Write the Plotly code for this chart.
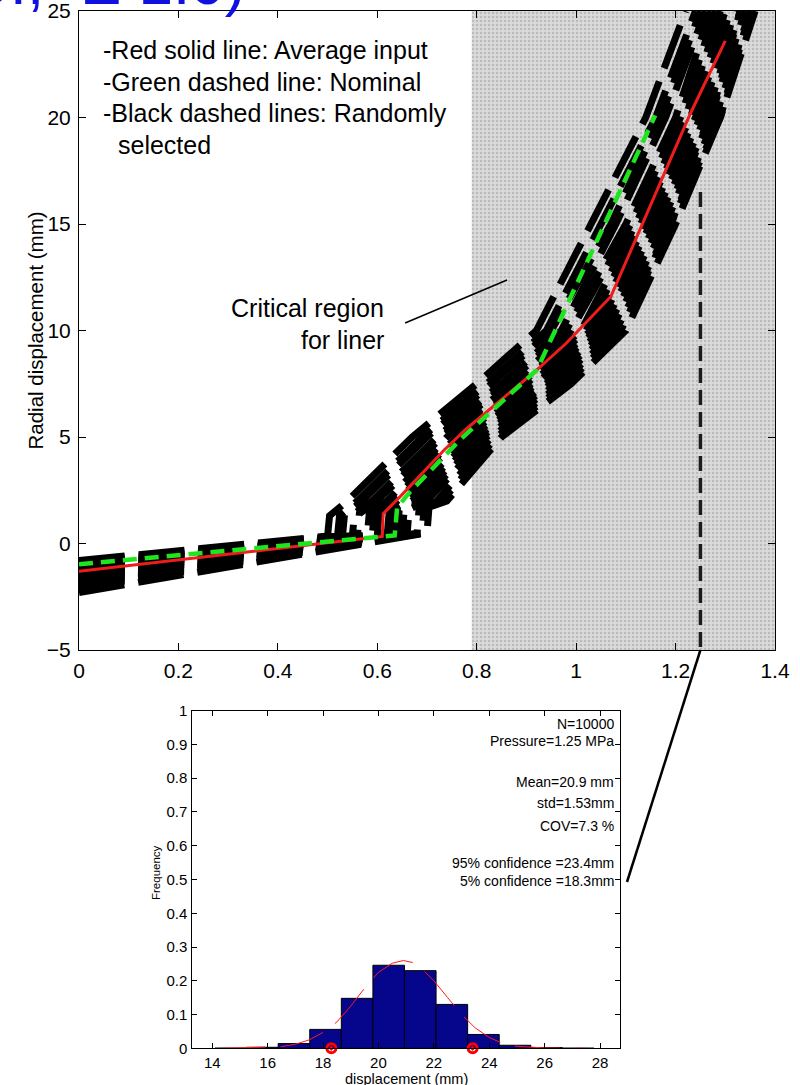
import plotly.graph_objects as go

# ---------------------------------------------------------------- data
# Average-input response (red) and nominal response (green): pressure (MPa) vs radial displacement (mm)
RED_X = [0.0, 0.61, 0.612, 0.646, 0.735, 0.78, 0.921, 0.98, 1.07, 1.23, 1.30]
RED_Y = [-1.3, 0.33, 1.4, 2.2, 4.4, 5.4, 8.15, 9.4, 11.6, 20.2, 23.6]

GREEN_X = [0.0, 0.635, 0.64, 0.665, 0.766, 0.921, 1.159]
GREEN_Y = [-0.97, 0.38, 1.7, 2.4, 4.86, 8.15, 20.1]

# Randomly selected realisations: start value, end of elastic branch, jump,
# then pressure at which each curve reaches the displacement levels below
RS_Y0 = [-0.8, -0.9, -1.0, -1.1, -1.15, -1.25, -1.35, -1.4, -1.5, -1.6, -1.7, -1.8, -1.9, -2.0, -2.1, -2.3]
RS_XK = [0.50, 0.52, 0.53, 0.55, 0.56, 0.58, 0.59, 0.60, 0.62, 0.63, 0.64, 0.65, 0.66, 0.68, 0.69, 0.70]
RS_YK = [0.35, 0.35, 0.35, 0.38, 0.38, 0.40, 0.40, 0.40, 0.42, 0.42, 0.45, 0.45, 0.45, 0.48, 0.48, 0.50]
RS_XJ = [0.504, 0.524, 0.534, 0.554, 0.564, 0.584, 0.594, 0.604, 0.624, 0.634, 0.644, 0.654, 0.664, 0.684, 0.694, 0.704]
RS_YJ = [1.30, 1.30, 1.35, 1.40, 1.40, 1.45, 1.45, 1.50, 1.50, 1.50, 1.55, 1.55, 1.60, 1.60, 1.65, 1.70]
RS_LEVELS = [2, 5, 7.5, 10, 15, 20, 25]
RS_X_AT_LEVELS = [
    [0.54, 0.67, 0.80, 0.92, 1.03, 1.14, 1.22],
    [0.56, 0.69, 0.82, 0.94, 1.05, 1.16, 1.24],
    [0.57, 0.70, 0.83, 0.95, 1.07, 1.17, 1.25],
    [0.59, 0.72, 0.85, 0.97, 1.08, 1.18, 1.26],
    [0.60, 0.73, 0.86, 0.98, 1.10, 1.20, 1.27],
    [0.62, 0.74, 0.87, 0.99, 1.11, 1.21, 1.28],
    [0.63, 0.76, 0.89, 1.01, 1.12, 1.22, 1.29],
    [0.64, 0.77, 0.90, 1.02, 1.13, 1.23, 1.30],
    [0.66, 0.78, 0.91, 1.03, 1.14, 1.24, 1.31],
    [0.67, 0.79, 0.92, 1.04, 1.15, 1.25, 1.32],
    [0.68, 0.80, 0.94, 1.05, 1.16, 1.26, 1.33],
    [0.69, 0.81, 0.95, 1.06, 1.17, 1.27, 1.33],
    [0.70, 0.82, 0.96, 1.07, 1.18, 1.27, 1.34],
    [0.72, 0.83, 0.97, 1.08, 1.19, 1.28, 1.35],
    [0.73, 0.84, 0.98, 1.09, 1.19, 1.29, 1.35],
    [0.74, 0.85, 0.99, 1.10, 1.20, 1.29, 1.36],
]

CRITICAL_FROM = 0.79          # start of the critical pressure band (MPa)
PRESSURE = 1.25               # pressure at which the distribution is taken
SECTION_TOP = 16.5            # upper end of the section line (mm)

# Histogram of displacement at 1.25 MPa
HIST_CENTERS = [14.67, 15.81, 16.95, 18.09, 19.23, 20.37, 21.51, 22.65, 23.79, 24.93, 26.07, 27.21]
HIST_WIDTH = 1.14
HIST_FREQ = [0.0005, 0.003, 0.014, 0.056, 0.148, 0.246, 0.230, 0.130, 0.041, 0.009, 0.002, 0.0005]

FIT_X = [14.3, 15.0, 16.0, 16.5, 17.0, 17.5, 18.0, 18.5, 19.0, 19.5, 20.0, 20.5, 20.9,
         21.3, 21.7, 22.0, 22.5, 23.0, 23.5, 24.0, 24.5, 25.0, 26.0, 27.0, 27.5]
FIT_Y = [0.0, 0.001, 0.003, 0.005, 0.012, 0.025, 0.047, 0.078, 0.125, 0.178, 0.225, 0.252, 0.26,
         0.253, 0.225, 0.2, 0.15, 0.1, 0.06, 0.032, 0.014, 0.006, 0.001, 0.0, 0.0]

CONF_5 = 18.3
CONF_95 = 23.4

MAIN_XTICKS = [0, 0.2, 0.4, 0.6, 0.8, 1.0, 1.2, 1.4]
MAIN_XTICKTEXT = ["0", "0.2", "0.4", "0.6", "0.8", "1", "1.2", "1.4"]
MAIN_YTICKS = [-5, 0, 5, 10, 15, 20, 25]
HIST_XTICKS = [14, 16, 18, 20, 22, 24, 26, 28]
HIST_YTICKS = [0, 0.1, 0.2, 0.3, 0.4, 0.5, 0.6, 0.7, 0.8, 0.9, 1.0]
HIST_YTICKTEXT = ["0", "0.1", "0.2", "0.3", "0.4", "0.5", "0.6", "0.7", "0.8", "0.9", "1"]

STATS = ["N=10000", "Pressure=1.25 MPa", "Mean=20.9 mm", "std=1.53mm", "COV=7.3 %",
         "95% confidence =23.4mm", "5% confidence =18.3mm"]
NOTES = ["-Red solid line: Average input", "-Green dashed line: Nominal",
         "-Black dashed lines: Randomly", "selected"]

# ---------------------------------------------------------------- layout geometry (pixels)
W, H = 800, 1085
FONT = "Liberation Sans, Arial, sans-serif"
MAIN_BOX = dict(l=79, r=775, t=11, b=650)
HIST_BOX = dict(l=192.3, r=620, t=710.7, b=1048.3)
MAIN_XR, MAIN_YR = [0, 1.4], [-5, 25]
HIST_XR, HIST_YR = [13.28, 28.72], [0, 1]


def px(v):
    return v / W


def py(v):
    return 1 - v / H


def main_to_paper(x, y):
    bx = MAIN_BOX["l"] + (x - MAIN_XR[0]) / (MAIN_XR[1] - MAIN_XR[0]) * (MAIN_BOX["r"] - MAIN_BOX["l"])
    by = MAIN_BOX["b"] - (y - MAIN_YR[0]) / (MAIN_YR[1] - MAIN_YR[0]) * (MAIN_BOX["b"] - MAIN_BOX["t"])
    return px(bx), py(by)


fig = go.Figure()

# critical region (stippled band)
fig.add_trace(go.Scatter(
    x=[CRITICAL_FROM, MAIN_XR[1], MAIN_XR[1], CRITICAL_FROM, CRITICAL_FROM],
    y=[MAIN_YR[0], MAIN_YR[0], MAIN_YR[1], MAIN_YR[1], MAIN_YR[0]],
    mode="none", fill="toself", fillcolor="#d8d8d8",
    fillpattern=dict(shape=".", bgcolor="#dbdbdb", fgcolor="#9c9c9c", size=4, solidity=0.35),
    hoverinfo="skip", showlegend=False, xaxis="x", yaxis="y"))

# random realisations
for i in range(len(RS_Y0)):
    xs = [0.0, RS_XK[i], RS_XJ[i]] + RS_X_AT_LEVELS[i]
    ys = [RS_Y0[i], RS_YK[i], RS_YJ[i]] + RS_LEVELS
    fig.add_trace(go.Scatter(
        x=xs, y=ys, mode="lines",
        line=dict(color="#000000", width=7, dash="46px,14px"),
        hoverinfo="skip", showlegend=False, xaxis="x", yaxis="y"))

# average input
fig.add_trace(go.Scatter(x=RED_X, y=RED_Y, mode="lines",
                         line=dict(color="#ee1c1c", width=3),
                         showlegend=False, xaxis="x", yaxis="y"))
# nominal
fig.add_trace(go.Scatter(x=GREEN_X, y=GREEN_Y, mode="lines",
                         line=dict(color="#1ee61e", width=4.5, dash="14px,8px"),
                         showlegend=False, xaxis="x", yaxis="y"))
# section at the selected pressure
fig.add_trace(go.Scatter(x=[PRESSURE, PRESSURE], y=[SECTION_TOP, MAIN_YR[0]], mode="lines",
                         line=dict(color="#1c1c1c", width=3.5, dash="15px,7px"),
                         showlegend=False, xaxis="x", yaxis="y"))

# histogram
fig.add_trace(go.Bar(x=HIST_CENTERS, y=HIST_FREQ, width=HIST_WIDTH,
                     marker=dict(color="#06068c", line=dict(color="#000000", width=1)),
                     showlegend=False, xaxis="x2", yaxis="y2"))
fig.add_trace(go.Scatter(x=FIT_X, y=FIT_Y, mode="lines",
                         line=dict(color="#ff1a1a", width=1, dash="45px,15px"),
                         showlegend=False, xaxis="x2", yaxis="y2"))
fig.add_trace(go.Scatter(x=[CONF_5, CONF_95], y=[0, 0], mode="markers",
                         marker=dict(symbol="circle-open-dot", size=9, color="#ff0000",
                                     line=dict(color="#ff0000", width=3)),
                         cliponaxis=False, showlegend=False, xaxis="x2", yaxis="y2"))

axis_common = dict(showline=True, linecolor="#000000", linewidth=1, mirror="ticks",
                   ticks="inside", tickcolor="#000000", showgrid=False, zeroline=False,
                   automargin=False, ticklabeloverflow="allow")

fig.update_layout(
    width=W, height=H, autosize=False,
    margin=dict(l=0, r=0, t=0, b=0, pad=0, autoexpand=False),
    paper_bgcolor="#ffffff", plot_bgcolor="rgba(0,0,0,0)",
    font=dict(family=FONT, color="#000000"),
    xaxis=dict(domain=[px(MAIN_BOX["l"]), px(MAIN_BOX["r"])], range=MAIN_XR,
               tickvals=MAIN_XTICKS, ticktext=MAIN_XTICKTEXT, ticklen=7,
               tickfont=dict(size=21), ticklabelstandoff=2, anchor="y", **axis_common),
    yaxis=dict(domain=[py(MAIN_BOX["b"]), py(MAIN_BOX["t"])], range=MAIN_YR,
               tickvals=MAIN_YTICKS, ticklen=7, tickfont=dict(size=21),
               ticklabelstandoff=3, anchor="x", **axis_common),
    xaxis2=dict(domain=[px(HIST_BOX["l"]), px(HIST_BOX["r"])], range=HIST_XR,
                tickvals=HIST_XTICKS, ticklen=5, tickfont=dict(size=15),
                ticklabelstandoff=1, anchor="y2", **axis_common),
    yaxis2=dict(domain=[py(HIST_BOX["b"]), py(HIST_BOX["t"])], range=HIST_YR,
                tickvals=HIST_YTICKS, ticktext=HIST_YTICKTEXT, ticklen=5,
                tickfont=dict(size=15), ticklabelstandoff=1, anchor="x2", **axis_common),
)

ann = []


def text(t, x, y, size, xanchor="left", color="#000000", angle=0):
    ann.append(dict(text=t, x=px(x), y=py(y), xref="paper", yref="paper",
                    xanchor=xanchor, yanchor="middle", showarrow=False, textangle=angle,
                    font=dict(size=size, color=color, family=FONT)))


# heading, mostly above the top edge of the page
text("CI,", 46, -17, 62, xanchor="right", color="#1010e0")
text("E 1.0)", 78, -17, 62, color="#1010e0")

# notes
for t, (x, y) in zip(NOTES, [(101, 50), (101, 81.7), (101, 113.3), (116, 145)]):
    text(t, x, y, 25)

text("Critical region", 386, 308, 25, xanchor="right")
text("for liner", 386, 340, 25, xanchor="right")

text("Radial displacement (mm)", 35, (MAIN_BOX["t"] + MAIN_BOX["b"]) / 2, 20.5,
     xanchor="center", angle=-90)

for t, y in zip(STATS, [724, 741, 782.3, 803.3, 825.7, 862.7, 880.7]):
    text(t, 616, y, 14, xanchor="right")

text("Frequency", 156, 873, 11.5, xanchor="center", angle=-90)
text("displacement (mm)", (HIST_BOX["l"] + HIST_BOX["r"]) / 2, 1079, 14.5, xanchor="center")

fig.update_layout(annotations=ann)

# pointer lines
x0, y0 = main_to_paper(0.656, 10.35)
x1, y1 = main_to_paper(0.861, 12.37)
xs0, ys0 = main_to_paper(PRESSURE, MAIN_YR[0])
fig.update_layout(shapes=[
    dict(type="line", xref="paper", yref="paper", x0=x0, y0=y0, x1=x1, y1=y1,
         line=dict(color="#000000", width=1.5)),
    dict(type="line", xref="paper", yref="paper", x0=xs0, y0=ys0, x1=px(627), y1=py(882),
         line=dict(color="#000000", width=2.5)),
])

fig.write_html("out.html")
